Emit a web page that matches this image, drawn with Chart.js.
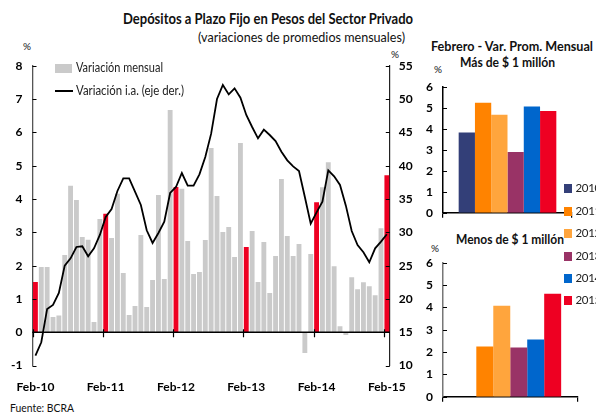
<!DOCTYPE html>
<html><head><meta charset="utf-8">
<script src="https://cdn.jsdelivr.net/npm/chart.js@4.4.1/dist/chart.umd.min.js"></script>
<style>
html,body{margin:0;padding:0;background:#fff;}
body{width:596px;height:414px;overflow:hidden;position:relative;font-family:Lato,"Open Sans",sans-serif;color:#111;}
.t{position:absolute;white-space:nowrap;line-height:1;transform-origin:left center;}
canvas{position:absolute;}
.sq{position:absolute;}
</style></head>
<body>
<div class="t" data-w="290" style="left:123px;top:11px;font-size:15px;font-weight:bold;">Depósitos a Plazo Fijo en Pesos del Sector Privado</div>
<div class="t" data-w="207" style="left:198px;top:32px;font-size:12.5px;">(variaciones de promedios mensuales)</div>
<div class="t" style="left:23px;top:41px;font-size:10px;">%</div>
<div class="t" style="left:391px;top:49px;font-size:10px;">%</div>

<div class="t" data-w="162" style="left:431px;top:41px;font-size:12.5px;font-weight:bold;">Febrero - Var. Prom. Mensual</div>
<div class="t" data-w="95" style="left:460px;top:57px;font-size:12.5px;font-weight:bold;">Más de $ 1 millón</div>
<div class="t" data-w="108" style="left:456px;top:234px;font-size:12.5px;font-weight:bold;">Menos de $ 1 millón</div>
<div class="t" style="left:434px;top:64px;font-size:10px;">%</div>
<div class="t" style="left:431px;top:243px;font-size:10px;">%</div>

<div class="t" data-w="64" style="left:10px;top:402px;font-size:11px;">Fuente: BCRA</div>

<canvas id="main" width="420" height="414" style="left:0;top:0;"></canvas>
<canvas id="top" width="181" height="230" style="left:415px;top:0;"></canvas>
<canvas id="bot" width="181" height="184" style="left:415px;top:230px;"></canvas>

<div id="mainLegend"></div>
<div id="sideLegend"></div>

<script>
// ---------- DATA ----------
const months = [
 "Feb-10","Mar-10","Abr-10","May-10","Jun-10","Jul-10","Ago-10","Sep-10","Oct-10","Nov-10","Dic-10","Ene-11",
 "Feb-11","Mar-11","Abr-11","May-11","Jun-11","Jul-11","Ago-11","Sep-11","Oct-11","Nov-11","Dic-11","Ene-12",
 "Feb-12","Mar-12","Abr-12","May-12","Jun-12","Jul-12","Ago-12","Sep-12","Oct-12","Nov-12","Dic-12","Ene-13",
 "Feb-13","Mar-13","Abr-13","May-13","Jun-13","Jul-13","Ago-13","Sep-13","Oct-13","Nov-13","Dic-13","Ene-14",
 "Feb-14","Mar-14","Abr-14","May-14","Jun-14","Jul-14","Ago-14","Sep-14","Oct-14","Nov-14","Dic-14","Ene-15",
 "Feb-15"
];
const monthlyVar = [
 1.51,1.96,1.96,0.46,0.50,2.32,4.40,3.97,2.86,2.78,0.31,3.40,
 3.56,2.83,4.16,1.78,0.52,0.79,2.92,0.76,1.57,4.12,1.60,6.67,
 4.36,4.31,2.74,1.75,1.81,2.77,5.53,4.09,3.01,3.16,2.26,5.68,
 2.56,3.04,1.51,2.71,1.18,2.29,4.60,2.89,2.29,2.65,-0.62,2.35,
 3.90,4.35,5.10,1.98,0.18,-0.08,1.65,1.29,1.50,1.38,1.11,3.12,
 4.71
];
const yoyVar = [
 11.5,13.5,18.5,19.1,20.9,25.0,26.1,27.8,27.9,26.4,27.6,29.6,
 32.3,33.5,36.2,38.1,38.1,36.1,34.1,30.3,28.4,29.9,31.6,35.9,
 36.8,38.9,37.0,37.0,38.7,41.3,44.8,50.0,52.1,50.7,51.6,50.2,
 47.6,45.8,44.1,45.4,44.6,43.7,42.1,40.8,39.9,39.2,35.3,31.3,
 33.0,34.6,39.3,38.4,37.1,34.0,30.2,28.1,27.0,25.5,27.6,28.6,
 29.7
];
const years = ["2010","2011","2012","2013","2014","2015"];
const febOver1M = [3.82,5.24,4.66,2.89,5.06,4.84];
const febUnder1M = [null,2.25,4.07,2.21,2.56,4.61];
const leftTicks = [-1,0,1,2,3,4,5,6,7,8];
const rightTicks = [10,15,20,25,30,35,40,45,50,55];

// ---------- STYLE ----------
const GRAY = '#cacaca', RED = '#ee0022';
const yearColors = ['#333f78','#ff8300','#ffa53d','#993366','#0066cc','#ee0022'];
Chart.defaults.font.family = 'Lato';
Chart.defaults.color = '#000';

const tickFont = {family:'Lato', size:12, weight:'bold'};

// plugin: zero line, Feb tick marks, inward y tick marks
const deco = {
  id:'deco',
  afterDatasetsDraw(chart, args, o){
    const ctx = chart.ctx, a = chart.chartArea;
    ctx.save();
    ctx.strokeStyle = '#000';
    if (o.zeroLine){
      const ys = chart.scales.y, xs = chart.scales.x;
      const y0 = ys.getPixelForValue(0);
      ctx.lineWidth = 1.5;
      ctx.beginPath(); ctx.moveTo(a.left, y0); ctx.lineTo(a.right, y0); ctx.stroke();
      const step = xs.getPixelForValue(1) - xs.getPixelForValue(0);
      ctx.lineWidth = 1.2;
      months.forEach((m,i)=>{
        if (m.startsWith('Feb')){
          const x = Math.round(xs.getPixelForValue(i) - step/2) + 0.5;
          ctx.beginPath(); ctx.moveTo(x, y0-3); ctx.lineTo(x, y0+5); ctx.stroke();
        }
      });
    }
    ctx.lineWidth = 1;
    (o.inward||[]).forEach(id=>{
      const s = chart.scales[id];
      s.ticks.forEach(t=>{
        const y = Math.round(s.getPixelForValue(t.value)) + 0.5;
        ctx.beginPath();
        if (s.position === 'left'){ ctx.moveTo(a.left, y); ctx.lineTo(a.left+4, y); }
        else { ctx.moveTo(a.right-4, y); ctx.lineTo(a.right, y); }
        ctx.stroke();
      });
    });
    ctx.restore();
  }
};

// ---------- MAIN CHART ----------
new Chart(document.getElementById('main'), {
  data: {
    labels: months,
    datasets: [
      {type:'line', label:'Variación i.a. (eje der.)', data: yoyVar, yAxisID:'y2',
       borderColor:'#000', borderWidth:1.8, pointRadius:0, tension:0, order:0},
      {type:'bar', label:'Variación mensual', data: monthlyVar, yAxisID:'y',
       backgroundColor: months.map(m => m.startsWith('Feb') ? RED : GRAY),
       barPercentage:0.83, categoryPercentage:1, order:1}
    ]
  },
  options: {
    responsive:false, animation:false,
    layout:{padding:{top:65.7, left:0, right:0, bottom:0}},
    plugins:{legend:{display:false}, tooltip:{enabled:false}, deco:{zeroLine:true, inward:['y','y2']}},
    scales:{
      x:{type:'category', offset:true,
         grid:{display:false, drawTicks:false}, border:{display:false},
         ticks:{autoSkip:false, maxRotation:0, minRotation:0, padding:14, font:tickFont, color:'#000',
                callback:(v,i)=> months[i].startsWith('Feb') ? months[i] : ''},
         afterFit(s){ s.height = 48.4; }},
      y:{position:'left', min:-1, max:8,
         afterBuildTicks(s){ s.ticks = leftTicks.map(v=>({value:v})); },
         ticks:{padding:10, font:tickFont, color:'#000'},
         grid:{display:false, drawTicks:false}, border:{color:'#555', width:1.3},
         afterFit(s){ s.width = 32.5; }},
      y2:{position:'right', min:10, max:55,
         afterBuildTicks(s){ s.ticks = rightTicks.map(v=>({value:v})); },
         ticks:{padding:9, font:tickFont, color:'#000'},
         grid:{display:false, drawTicks:false}, border:{color:'#222', width:1.2},
         afterFit(s){ s.width = 25.5; }}
    }
  },
  plugins:[deco]
});

// ---------- SMALL CHARTS ----------
function smallChart(id, values, padTop, padRight, xH, yBorder){
  return new Chart(document.getElementById(id), {
    type:'bar',
    data:{ labels:['Febrero'],
      datasets: years.map((yr,i)=>({label:yr, data:[values[i]], backgroundColor:yearColors[i],
        barPercentage:1, categoryPercentage:0.757})) },
    options:{
      responsive:false, animation:false,
      layout:{padding:{top:padTop, right:padRight, left:0, bottom:0}},
      plugins:{legend:{display:false}, tooltip:{enabled:false}, deco:{inward:['y']}},
      scales:{
        x:{offset:true, ticks:{display:false},
           grid:{display:true, drawOnChartArea:false, drawTicks:true, tickLength:5, color:'#000', lineWidth:1.2},
           border:{color:'#000', width:1.5},
           afterFit(s){ s.height = xH; }},
        y:{min:0, max:6, ticks:{stepSize:1, padding:10, font:tickFont, color:'#000'},
           grid:{display:false, drawTicks:false}, border:{color:yBorder, width:1.5},
           afterFit(s){ s.width = 28; }}
      }
    },
    plugins:[deco]
  });
}
smallChart('top', febOver1M, 86.7, 24, 7.7, '#000');
smallChart('bot', febUnder1M, 32.7, 18.5, 16.3, '#777');

// ---------- LEGENDS (HTML text) ----------
const ml = document.getElementById('mainLegend');
ml.innerHTML =
  '<div class="sq" style="left:55px;top:64px;width:17px;height:9px;background:'+GRAY+'"></div>'+
  '<div class="t" data-w="87" style="left:76px;top:62px;font-size:12.5px;color:#222">Variación mensual</div>'+
  '<div class="sq" style="left:55px;top:90px;width:18px;height:2px;background:#000"></div>'+
  '<div class="t" data-w="108" style="left:76px;top:84.5px;font-size:12.5px;color:#222">Variación i.a. (eje der.)</div>';
const sl = document.getElementById('sideLegend');
const centers = [188,211,233,256,278,300];
sl.innerHTML = years.map((yr,i)=>
  '<div class="sq" style="left:564px;top:'+(centers[i]-4.5)+'px;width:8px;height:9px;background:'+yearColors[i]+'"></div>'+
  '<div class="t" style="left:575.5px;top:'+(centers[i]-6)+'px;font-size:11.5px;color:#222;letter-spacing:-0.3px">'+yr+'</div>').join('');

function fit(){
  document.querySelectorAll('[data-w]').forEach(el=>{
    el.style.transform='';
    const w = el.getBoundingClientRect().width;
    const t = +el.dataset.w;
    if (w>0) el.style.transform = 'scaleX('+(t/w)+')';
  });
}
fit();
if (document.fonts && document.fonts.ready) document.fonts.ready.then(fit);
</script>
</body></html>
